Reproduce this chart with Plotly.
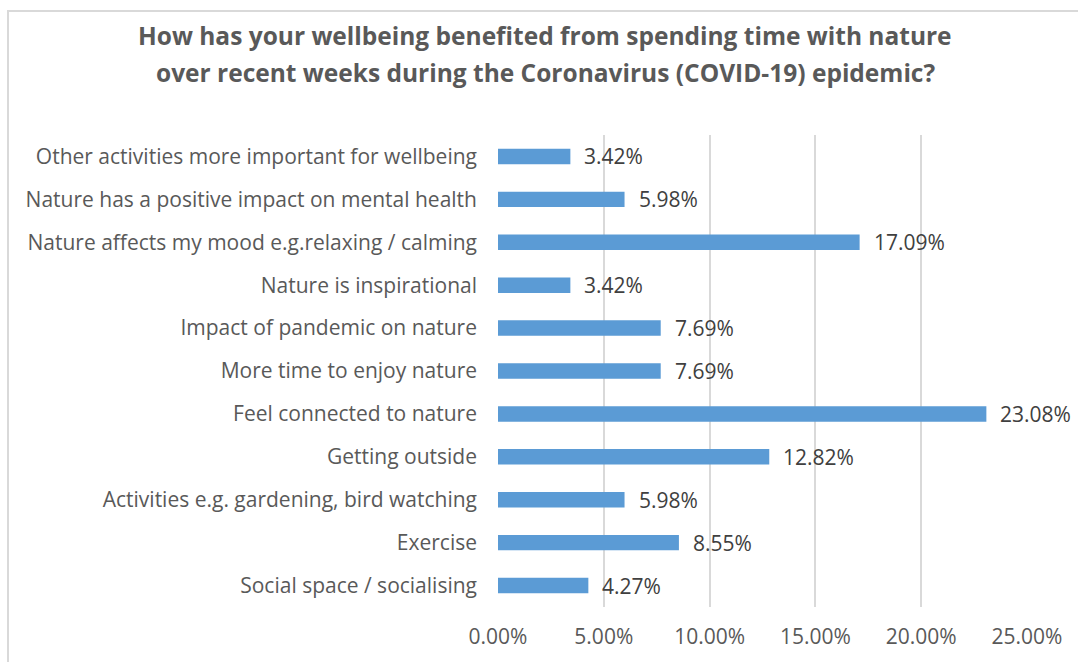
import plotly.graph_objects as go

categories = [
    "Social space / socialising",
    "Exercise",
    "Activities e.g. gardening, bird watching",
    "Getting outside",
    "Feel connected to nature",
    "More time to enjoy nature",
    "Impact of pandemic on nature",
    "Nature is inspirational",
    "Nature affects my mood e.g.relaxing / calming",
    "Nature has a positive impact on mental health",
    "Other activities more important for wellbeing",
]
values = [4.27, 8.55, 5.98, 12.82, 23.08, 7.69, 7.69, 3.42, 17.09, 5.98, 3.42]
tick_vals = [0, 5, 10, 15, 20, 25]
tick_text = ["0.00%", "5.00%", "10.00%", "15.00%", "20.00%", "25.00%"]
title_lines = [
    "How has your wellbeing benefited from spending time with nature",
    "over recent weeks during the Coronavirus (COVID-19) epidemic?",
]

W, H = 1078, 662
L, R, T, B = 498, 51, 135, 55
pw, ph = W - L - R, H - T - B

def px_x(x):
    return (x - L) / pw

def px_y(y):
    return 1 + (T - y) / ph

font = "Open Sans, sans-serif"

fig = go.Figure(go.Bar(
    y=categories,
    x=values,
    orientation="h",
    marker=dict(color="#5B9BD5", line=dict(width=0)),
    width=0.36,
    cliponaxis=False,
))

# value labels to the right of each bar
annotations = [
    dict(text=f"{v:.2f}%", x=v, y=c, xref="x", yref="y",
         showarrow=False, xanchor="left", yanchor="middle", xshift=12,
         font=dict(family=font, size=21, color="#404040"))
    for c, v in zip(categories, values)
]

# two-line chart title
annotations += [
    dict(text=f"<b>{line}</b>", x=px_x(545), y=yc, xref="paper", yref="paper",
         showarrow=False, font=dict(family=font, size=24.5, color="#595959"),
         xanchor="center", yanchor="middle")
    for line, yc in zip(title_lines, [px_y(35), px_y(73)])
]

fig.update_layout(
    width=W, height=H,
    margin=dict(l=L, r=R, t=T, b=B),
    paper_bgcolor="white", plot_bgcolor="white",
    showlegend=False,
    xaxis=dict(range=[0, 25], tickvals=tick_vals, ticktext=tick_text,
               showgrid=True, gridcolor="#D9D9D9", gridwidth=2,
               zeroline=False, showline=False, ticks="",
               ticklabelstandoff=15,
               tickfont=dict(family=font, size=21, color="#595959")),
    yaxis=dict(showgrid=False, zeroline=False, showline=False, ticks="",
               ticklabelstandoff=20,
               tickfont=dict(family=font, size=21, color="#595959")),
    annotations=annotations,
    shapes=[dict(type="rect", xref="paper", yref="paper",
                 x0=px_x(8), x1=px_x(1085), y0=px_y(670), y1=px_y(11),
                 line=dict(color="#D9D9D9", width=2), layer="below")],
)

fig.write_html("out.html")
